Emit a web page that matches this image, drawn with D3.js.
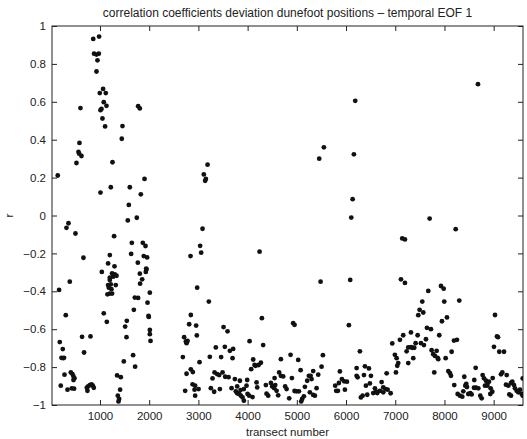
<!DOCTYPE html>
<html><head><meta charset="utf-8">
<script src="https://cdn.jsdelivr.net/npm/d3@7"></script>
<style>body{margin:0;background:#fff}svg{display:block}text{font-family:"Liberation Sans",Arial,sans-serif;fill:#222}</style>
</head><body>
<script>
const title = "correlation coefficients deviation dunefoot positions – temporal EOF 1";
const xLabel = "transect number";
const yLabel = "r";
const xTicks = [1000,2000,3000,4000,5000,6000,7000,8000,9000];
const yTicks = [-1,-0.8,-0.6,-0.4,-0.2,0,0.2,0.4,0.6,0.8,1];
const transect = [
863,982,880,929,976,949,929,1063,996,1118,1077,1132,1030,1010,1050,1104,603,1457,1443,583,1776,1809,
563,577,624,522,1254,142,1905,1010,1220,1606,1830,1586,1565,1748,360,319,502,1287,1647,1870,1925,664,1200,1633,1890,1958,1165,1295,1769,1939,
1037,1945,1931,1246,1301,1336,1267,1200,1810,1857,1815,386,1200,1165,1220,1179,1233,1200,1246,1152,1321,169,1708,1775,2013,1966,1688,1077,305,1986,1992,1139,1545,1511,2013,2013,636,807,1539,2027,183,677,244,217,250,270,1673,1484,1714,279,407,441,462,482,462,1348,1423,203,340,427,474,732,759,793,828,854,874,745,1362,1389,1376,1409,
3186,3110,3151,3137,3084,3035,3056,2840,4243,
2975,3212,2846,2812,2954,2710,2745,2779,2759,2968,3511,3592,4290,4040,4316,4926,4954,3354,3537,3639,3706,2684,3232,3462,3694,3023,4113,4072,4162,4223,4270,4141,2846,2887,2759,4676,5028,3328,3381,3422,3491,3287,3544,3613,3741,3843,3991,4641,4676,4723,4548,4900,2881,2934,2731,2922,3003,2934,3253,3320,3436,3674,3761,3788,3829,3863,3897,3788,3857,3924,3924,3978,3999,4032,4100,4182,4195,4371,4385,4418,4473,4500,4540,4561,4589,4621,4763,4792,4845,4954,
8681,6187,5550,5455,6160,6134,6106,7699,8228,7142,7197,
5483,6085,7116,7197,6058,7162,7095,6939,7264,7231,4873,5530,6282,6993,7028,7061,7041,5503,6215,6384,6465,5077,5333,5435,5245,5280,5211,5300,5164,5401,5265,5333,5367,4995,5042,5109,5143,5089,5875,5780,5855,5916,5963,6018,5800,5835,5977,6215,6235,6364,6506,6404,6485,6587,6607,6634,6689,6723,6756,6804,6845,6906,6756,6553,6337,6431,6302,7014,6825,
7929,7984,7671,7549,7996,8301,7495,7569,7468,9027,8051,7949,7644,7725,7319,7455,7894,7624,8193,8254,9067,9088,7414,7522,7583,7319,7346,7386,7739,7841,7772,7807,7861,7874,9006,9114,9210,8146,7366,8024,7264,8634,7793,8078,8112,8132,8199,8403,8443,8423,8457,8268,8315,8362,8383,8484,8525,8552,8600,8641,8688,8606,8728,8756,8776,8803,8844,8878,8905,8871,8823,8939,8972,8932,8980,9149,9176,9265,9250,9298,9352,9379,9413,9433,9467,9501,9535,9569,9590,9318,9352,9590
];
const rValues = [
0.932,0.944,0.854,0.849,0.854,0.819,0.76,0.668,0.646,0.646,0.598,0.579,0.562,0.556,0.512,0.47,0.567,0.472,0.405,0.383,0.577,0.565,
0.335,0.326,0.314,0.277,0.281,0.211,0.193,0.121,0.149,0.149,0.112,0.056,-0.026,-0.012,-0.041,-0.065,-0.095,-0.109,-0.144,-0.144,-0.161,-0.223,-0.209,-0.202,-0.214,-0.221,-0.253,-0.268,-0.249,-0.28,
-0.298,-0.284,-0.298,-0.305,-0.311,-0.318,-0.323,-0.328,-0.307,-0.337,-0.36,-0.349,-0.34,-0.367,-0.363,-0.381,-0.389,-0.412,-0.412,-0.416,-0.367,-0.393,-0.433,-0.435,-0.407,-0.46,-0.498,-0.516,-0.526,-0.53,-0.535,-0.561,-0.556,-0.586,-0.604,-0.626,-0.64,-0.638,-0.642,-0.662,-0.668,-0.723,-0.705,-0.751,-0.753,-0.751,-0.737,-0.77,-0.798,-0.84,-0.828,-0.837,-0.849,-0.859,-0.868,-0.844,-0.853,-0.898,-0.919,-0.912,-0.914,-0.909,-0.902,-0.895,-0.891,-0.898,-0.909,-0.925,-0.951,-0.968,-0.981,-0.919,
0.268,0.217,0.193,0.183,-0.07,-0.16,-0.196,-0.214,-0.191,
-0.381,-0.454,-0.525,-0.574,-0.581,-0.642,-0.665,-0.662,-0.674,-0.633,-0.589,-0.611,-0.542,-0.663,-0.684,-0.568,-0.577,-0.696,-0.693,-0.714,-0.704,-0.747,-0.746,-0.747,-0.753,-0.774,-0.76,-0.811,-0.793,-0.789,-0.777,-0.789,-0.812,-0.826,-0.835,-0.758,-0.762,-0.828,-0.837,-0.842,-0.828,-0.86,-0.851,-0.853,-0.863,-0.872,-0.868,-0.828,-0.846,-0.849,-0.858,-0.858,-0.891,-0.898,-0.925,-0.919,-0.916,-0.951,-0.911,-0.93,-0.916,-0.911,-0.928,-0.938,-0.942,-0.951,-0.96,-0.902,-0.921,-0.916,-0.977,-0.898,-0.942,-0.951,-0.958,-0.881,-0.907,-0.895,-0.94,-0.951,-0.884,-0.902,-0.911,-0.895,-0.925,-0.949,-0.902,-0.916,-0.965,-0.926,
0.693,0.605,0.36,0.3,0.323,0.086,-0.011,-0.016,-0.072,-0.121,-0.126,
-0.349,-0.34,-0.337,-0.356,-0.579,-0.632,-0.656,-0.675,-0.696,-0.717,-0.735,-0.737,-0.717,-0.735,-0.753,-0.779,-0.793,-0.798,-0.805,-0.796,-0.807,-0.816,-0.821,-0.84,-0.846,-0.846,-0.872,-0.863,-0.904,-0.911,-0.933,-0.947,-0.951,-0.928,-0.928,-0.968,-0.954,-0.981,-0.823,-0.898,-0.884,-0.863,-0.875,-0.877,-0.925,-0.925,-0.919,-0.846,-0.854,-0.842,-0.846,-0.898,-0.886,-0.912,-0.928,-0.937,-0.925,-0.879,-0.907,-0.916,-0.919,-0.938,-0.933,-0.937,-0.951,-0.946,-0.96,-0.828,-0.833,
-0.372,-0.386,-0.398,-0.454,-0.454,-0.449,-0.498,-0.512,-0.526,-0.525,-0.538,-0.558,-0.593,-0.6,-0.617,-0.632,-0.632,-0.653,-0.66,-0.656,-0.638,-0.642,-0.674,-0.674,-0.684,-0.695,-0.698,-0.698,-0.711,-0.714,-0.732,-0.741,-0.751,-0.758,-0.693,-0.719,-0.719,-0.719,-0.753,-0.753,-0.779,-0.804,-0.828,-0.821,-0.832,-0.846,-0.895,-0.851,-0.888,-0.898,-0.905,-0.942,-0.951,-0.956,-0.928,-0.942,-0.938,-0.944,-0.909,-0.909,-0.912,-0.868,-0.951,-0.965,-0.842,-0.859,-0.872,-0.884,-0.877,-0.898,-0.898,-0.912,-0.93,-0.942,-0.858,-0.838,-0.828,-0.842,-0.893,-0.898,-0.884,-0.877,-0.895,-0.912,-0.925,-0.933,-0.919,-0.942,-0.951,-0.944,-0.951,-0.86
];

const W = 527, H = 439;
const L = 52, R = 523, T = 26, B = 405;
const svg = d3.select("body").append("svg").attr("width", W).attr("height", H);
const x = d3.scaleLinear().domain([25, 9596]).range([L, R]);
const y = d3.scaleLinear().domain([-1, 1]).range([B, T]);
const fmt = v => (v < 0 ? "\u2212" : "") + Math.abs(v).toString();

svg.append("defs").append("clipPath").attr("id", "clip")
  .append("rect").attr("x", L).attr("y", T).attr("width", R - L).attr("height", B - T);

const tick = 5;
const gx = svg.append("g").attr("transform", `translate(0,${B})`)
  .call(d3.axisBottom(x).tickValues(xTicks).tickSize(-tick).tickPadding(7).tickFormat(d3.format("d")));
const gxt = svg.append("g").attr("transform", `translate(0,${T})`)
  .call(d3.axisTop(x).tickValues(xTicks).tickSize(-tick).tickFormat(""));
const gy = svg.append("g").attr("transform", `translate(${L},0)`)
  .call(d3.axisLeft(y).tickValues(yTicks).tickSize(-tick).tickPadding(6).tickFormat(fmt));
const gyr = svg.append("g").attr("transform", `translate(${R},0)`)
  .call(d3.axisRight(y).tickValues(yTicks).tickSize(-tick).tickFormat(""));
[gx, gxt, gy, gyr].forEach(g => {
  g.select(".domain").remove();
  g.selectAll("line").attr("stroke", "#222");
  g.selectAll("text").attr("font-size", "11.5px").attr("fill", "#222")
   .attr("font-family", "'Liberation Sans', Arial, sans-serif");
});
svg.append("rect").attr("x", L).attr("y", T).attr("width", R - L).attr("height", B - T)
  .attr("fill", "none").attr("stroke", "#222").attr("stroke-width", 1);

svg.append("g").attr("clip-path", "url(#clip)")
  .selectAll("circle").data(transect).join("circle")
  .attr("cx", d => x(d)).attr("cy", (d, i) => y(rValues[i])).attr("r", 2.4).attr("fill", "#111");

svg.append("text").attr("x", (L + R) / 2).attr("y", 17).attr("text-anchor", "middle")
  .attr("font-size", "12px").text(title);
svg.append("text").attr("x", (L + R) / 2).attr("y", 436).attr("text-anchor", "middle")
  .attr("font-size", "11.5px").text(xLabel);
svg.append("text").attr("transform", `translate(13,${(T + B) / 2}) rotate(-90)`).attr("text-anchor", "middle")
  .attr("font-size", "11.5px").text(yLabel);
</script>
</body></html>
